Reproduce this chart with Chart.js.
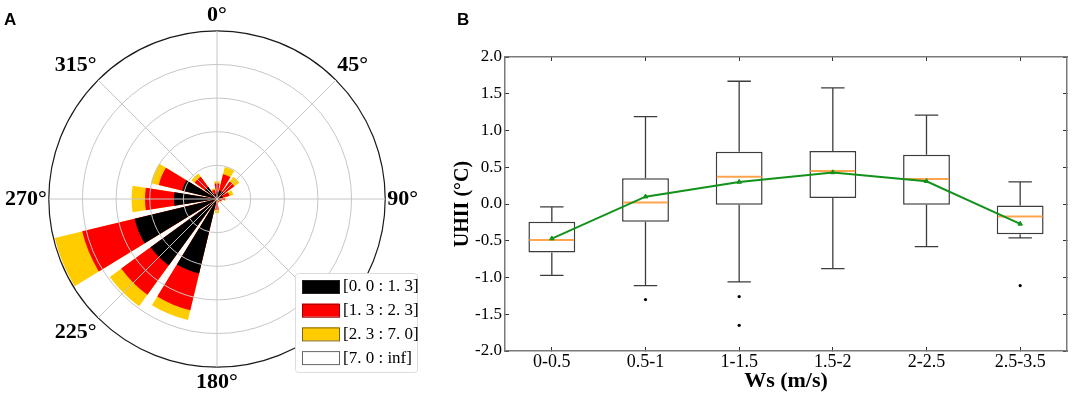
<!DOCTYPE html>
<html lang="en">
<head>
  <meta charset="UTF-8">
  <title>Wind rose and UHII by wind speed</title>
  <script src="https://cdn.jsdelivr.net/npm/chart.js@4.4.1/dist/chart.umd.min.js"></script>
  <style>
    body { margin: 0; background: #fff; }
    #wrap { position: relative; width: 1072px; height: 398px; overflow: hidden; }
    .panel { position: absolute; top: 0; height: 398px; }
    .tag { position: absolute; z-index: 2; font: bold 17px "Liberation Sans", Arial, sans-serif; line-height: 17px; }
  </style>
</head>
<body>
  <div id="wrap">
    <div class="tag" style="left:4px;top:11px">A</div>
    <div class="tag" style="left:457px;top:11px">B</div>
    <div class="panel" style="left:0;width:424px"><canvas id="rose"></canvas></div>
    <div class="panel" style="left:440px;width:632px"><canvas id="uhii"></canvas></div>
  </div>

  <script>
    // ---- panel A: wind rose (frequency per direction, stacked by speed bin) ----
    const directions = ['N', 'NNE', 'NE', 'ENE', 'E', 'ESE', 'SE', 'SSE',
                        'S', 'SSW', 'SW', 'WSW', 'W', 'WNW', 'NW', 'NNW'];
    const bin1 = [1.1, 1.3, 1.4, 0.9, 0.5, 0.3, 0.2, 0.2, 0.3, 11.4, 12.2, 12.6, 6.4, 5.3, 2.2, 0.8];
    const bin2 = [1.2, 2.5, 1.8, 1.0, 0.7, 0.4, 0.2, 0.3, 1.3, 5.6, 5.4, 8.0, 4.3, 3.6, 1.9, 0.6];
    const bin3 = [0.35, 1.1, 0.9, 0.6, 0.2, 0.1, 0.1, 0.1, 0.5, 1.5, 2.1, 4.2, 2.0, 1.2, 0.6, 0.2];
    const bin4 = [0, 0, 0, 0, 0, 0, 0, 0, 0, 0, 0, 0, 0, 0, 0, 0];
    const binLabels = ['[0. 0 : 1. 3]', '[1. 3 : 2. 3]', '[2. 3 : 7. 0]', '[7. 0 : inf]'];
    const dirTicks = ['0°', '45°', '90°', '135°', '180°', '225°', '270°', '315°'];

    // ---- panel B: UHII box plots per wind speed class ----
    const speedBins = ['0-0.5', '0.5-1', '1-1.5', '1.5-2', '2-2.5', '2.5-3.5'];
    const whiskerLow = [-0.97, -1.11, -1.06, -0.88, -0.58, -0.46];
    const q1 = [-0.66, -0.24, -0.01, 0.08, -0.01, -0.41];
    const medians = [-0.49, 0.02, 0.37, 0.45, 0.34, -0.17];
    const q3 = [-0.24, 0.35, 0.71, 0.72, 0.67, -0.02];
    const whiskerHigh = [-0.04, 1.19, 1.67, 1.58, 1.21, 0.30];
    const means = [-0.47, 0.10, 0.30, 0.43, 0.31, -0.27];
    const outlierBins = ['0.5-1', '1-1.5', '1-1.5', '2.5-3.5'];
    const outlierValues = [-1.30, -1.26, -1.65, -1.11];

    const SERIF = '"Liberation Serif", "Times New Roman", serif';
    Chart.defaults.font.family = SERIF;
    Chart.defaults.color = '#000';

    // wedge 18 deg, gap 4.5 deg; N wedge is split in two halves so the rose starts at north
    const WEDGE = 18, GAP = 4.5;
    const sliceAngles = [WEDGE / 2];
    for (let d = 1; d < directions.length; d++) sliceAngles.push(GAP, WEDGE);
    sliceAngles.push(GAP, WEDGE / 2);

    function toSlices(vals) {
      const out = [vals[0]];
      for (let d = 1; d < vals.length; d++) out.push(0, vals[d]);
      out.push(0, vals[0]);
      return out;
    }

    // stacked = cumulative sums, drawn from the outer bin inwards
    const bins = [bin1, bin2, bin3, bin4];
    const cumulative = bins.map((_, k) => directions.map((_, d) => {
      let s = 0;
      for (let j = 0; j <= k; j++) s += bins[j][d];
      return s;
    }));
    const binColors = ['#000000', '#ff0000', '#ffcc00', '#ffffff'];
    const binEdges = ['#222222', '#a00000', '#806400', '#666666'];

    const roseLegend = {
      id: 'roseLegend',
      afterDraw(chart) {
        const ctx = chart.ctx;
        const x0 = 295, y0 = 273, w = 122, h = 99;
        ctx.save();
        ctx.fillStyle = '#fff';
        ctx.strokeStyle = '#dcdcdc';
        ctx.lineWidth = 1;
        ctx.beginPath();
        ctx.roundRect(x0 + 0.5, y0 + 0.5, w, h, 3);
        ctx.fill();
        ctx.stroke();
        ctx.font = '17px ' + SERIF;
        ctx.textBaseline = 'middle';
        chart.data.datasets.forEach((ds, i) => {
          const y = y0 + 7 + i * 23.7;
          ctx.fillStyle = ds.backgroundColor;
          ctx.fillRect(x0 + 7, y, 37, 13);
          ctx.strokeStyle = binEdges[i];
          ctx.strokeRect(x0 + 7.5, y + 0.5, 37, 13);
          ctx.fillStyle = '#000';
          ctx.fillText(ds.label, x0 + 48, y + 7);
        });
        ctx.restore();
      }
    };

    new Chart(document.getElementById('rose'), {
      type: 'polarArea',
      data: {
        labels: dirTicks,
        datasets: cumulative.map((vals, k) => ({
          label: binLabels[k],
          data: toSlices(vals),
          backgroundColor: binColors[k],
          borderWidth: 0,
          angle: ctx => sliceAngles[ctx.dataIndex]
        }))
      },
      options: {
        responsive: true,
        maintainAspectRatio: false,
        animation: false,
        plugins: { legend: { display: false }, tooltip: { enabled: false } },
        scales: {
          r: {
            min: 0,
            max: 25,
            startAngle: 0,
            ticks: { display: false, stepSize: 5 },
            grid: {
              z: 1,
              circular: true,
              color: c => c.index === 5 ? '#1a1a1a' : '#c6c6c6',
              lineWidth: c => c.index === 5 ? 1.2 : 1
            },
            angleLines: { display: true, color: '#c6c6c6', lineWidth: 1 },
            pointLabels: {
              display: true,
              color: '#000',
              padding: 2,
              font: { family: SERIF, size: 22, weight: 'bold' }
            }
          }
        }
      },
      plugins: [roseLegend]
    });

    // whiskers, caps and medians drawn right after the boxes
    const boxWhiskers = {
      id: 'boxWhiskers',
      afterDatasetDraw(chart, args) {
        if (args.index !== 0) return;
        const ctx = chart.ctx;
        const y = chart.scales.y;
        ctx.save();
        args.meta.data.forEach((bar, i) => {
          const half = bar.width / 2;
          const cap = half * 0.5;
          ctx.strokeStyle = '#3c3c3c';
          ctx.lineWidth = 1.3;
          ctx.beginPath();
          ctx.moveTo(bar.x, y.getPixelForValue(q3[i]));
          ctx.lineTo(bar.x, y.getPixelForValue(whiskerHigh[i]));
          ctx.moveTo(bar.x - cap, y.getPixelForValue(whiskerHigh[i]));
          ctx.lineTo(bar.x + cap, y.getPixelForValue(whiskerHigh[i]));
          ctx.moveTo(bar.x, y.getPixelForValue(q1[i]));
          ctx.lineTo(bar.x, y.getPixelForValue(whiskerLow[i]));
          ctx.moveTo(bar.x - cap, y.getPixelForValue(whiskerLow[i]));
          ctx.lineTo(bar.x + cap, y.getPixelForValue(whiskerLow[i]));
          ctx.stroke();
          ctx.strokeStyle = '#ffa54f';
          ctx.lineWidth = 2;
          ctx.beginPath();
          ctx.moveTo(bar.x - half + 1, y.getPixelForValue(medians[i]));
          ctx.lineTo(bar.x + half - 1, y.getPixelForValue(medians[i]));
          ctx.stroke();
        });
        ctx.restore();
      }
    };

    const frame = { color: '#7a7a7a', width: 1.5 };
    const inTicks = { drawOnChartArea: false, tickLength: -4, color: '#333', offset: false };

    new Chart(document.getElementById('uhii'), {
      type: 'bar',
      data: {
        labels: speedBins,
        datasets: [
          {
            type: 'bar',
            data: speedBins.map((_, i) => [q1[i], q3[i]]),
            backgroundColor: '#ffffff',
            borderColor: '#3c3c3c',
            borderWidth: 1.5,
            borderSkipped: false,
            barPercentage: 0.5,
            categoryPercentage: 1,
            order: 3
          },
          {
            type: 'line',
            data: outlierBins.map((b, i) => ({ x: b, y: outlierValues[i] })),
            showLine: false,
            pointRadius: 1.6,
            pointBorderWidth: 0,
            pointBackgroundColor: '#000',
            order: 2
          },
          {
            type: 'line',
            data: means,
            borderColor: '#13921b',
            backgroundColor: '#13921b',
            borderWidth: 2,
            pointStyle: 'triangle',
            pointRadius: 2.6,
            pointBorderWidth: 1,
            tension: 0,
            order: 1
          }
        ]
      },
      options: {
        responsive: true,
        maintainAspectRatio: false,
        animation: false,
        layout: { padding: { top: 57, right: 5 } },
        plugins: { legend: { display: false }, tooltip: { enabled: false } },
        scales: {
          x: {
            position: 'bottom',
            offset: true,
            grid: inTicks,
            border: frame,
            ticks: { color: '#000', padding: 4, font: { size: 18 } },
            title: {
              display: true,
              text: 'Ws (m/s)',
              color: '#000',
              font: { size: 22, weight: 'bold' },
              padding: { top: 0, bottom: 3 }
            },
            afterFit: s => { s.height = 47; }
          },
          x2: {
            type: 'category',
            position: 'top',
            offset: true,
            grid: inTicks,
            border: frame,
            ticks: { display: false },
            afterFit: s => { s.height = 0; }
          },
          y: {
            min: -2,
            max: 2,
            grid: inTicks,
            border: frame,
            ticks: { stepSize: 0.5, padding: 7, color: '#000', font: { size: 17 }, callback: v => v.toFixed(1) },
            title: {
              display: true,
              text: 'UHII (°C)',
              color: '#000',
              font: { size: 20, weight: 'bold' },
              padding: { top: 11 }
            },
            afterFit: s => { s.width = 65; }
          },
          y2: {
            position: 'right',
            min: -2,
            max: 2,
            grid: inTicks,
            border: frame,
            ticks: { stepSize: 0.5, display: false },
            afterFit: s => { s.width = 0; }
          }
        }
      },
      plugins: [boxWhiskers]
    });
  </script>
</body>
</html>
